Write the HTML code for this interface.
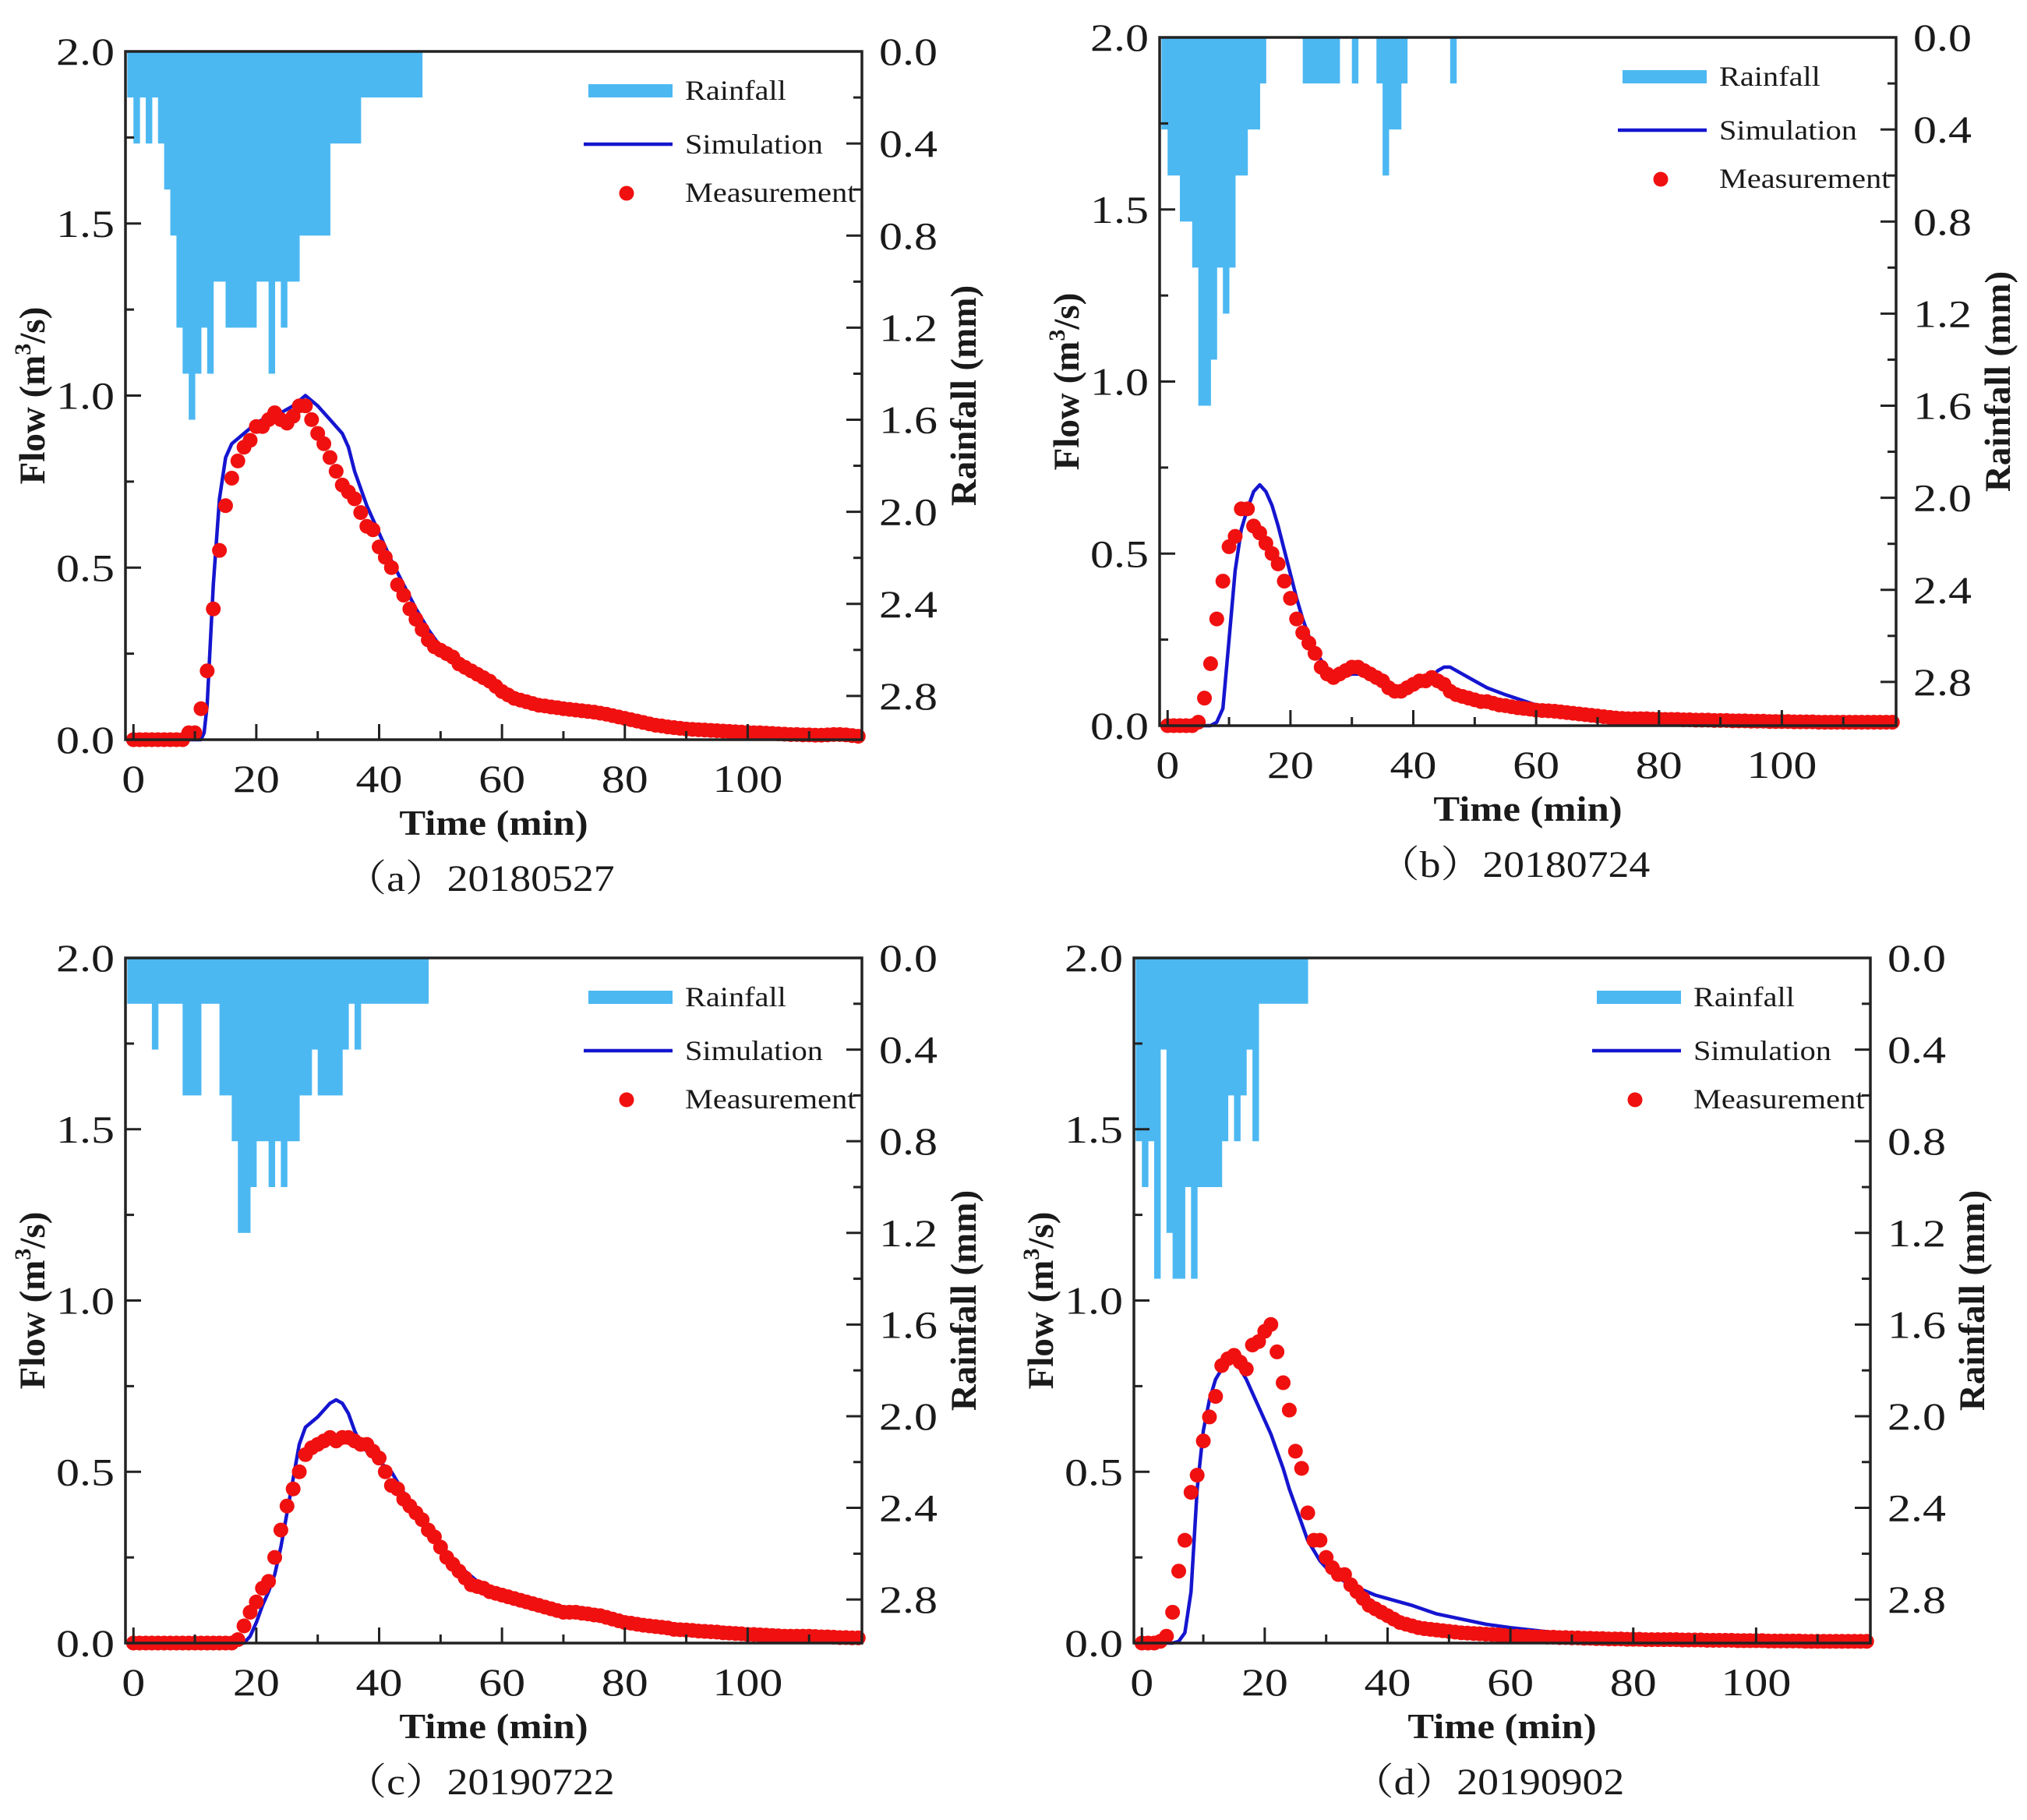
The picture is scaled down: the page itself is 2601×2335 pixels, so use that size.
<!DOCTYPE html>
<html><head><meta charset="utf-8"><style>
html,body{margin:0;padding:0;background:#fff;}
svg{display:block;}
text{font-family:"Liberation Serif","Noto Serif CJK SC",serif;fill:#1a1a1a;}
</style></head><body>
<svg id="fig" width="2601" height="2335" viewBox="0 0 2601 2335" xmlns="http://www.w3.org/2000/svg"></svg>
<script>
// ---- shared axis data ----
const flowTicks = [0, 0.5, 1.0, 1.5, 2.0];
const flowTickLabels = ["0.0", "0.5", "1.0", "1.5", "2.0"];
const rainTicks = [0, 0.4, 0.8, 1.2, 1.6, 2.0, 2.4, 2.8];
const rainTickLabels = ["0.0", "0.4", "0.8", "1.2", "1.6", "2.0", "2.4", "2.8"];
const timeTicks = [0, 20, 40, 60, 80, 100];
const timeTickLabels = ["0", "20", "40", "60", "80", "100"];

// ---- panel (a) 20180527 ----
const rainA = [0.2,0.4,0.2,0.4,0.2,0.4,0.6,0.8,1.2,1.4,1.6,1.4,1.2,1.4,1.0,1.0,1.2,1.2,1.2,1.2,1.2,1.0,1.0,1.4,1.0,1.2,1.0,1.0,0.8,0.8,0.8,0.8,0.8,0.4,0.4,0.4,0.4,0.4,0.2,0.2,0.2,0.2,0.2,0.2,0.2,0.2,0.2,0.2];
const simTA = [0,11,11.5,12,13,14,15,16,18,20,22,24,26,28,30,32,34,35,36,38,40,42,44,46,48,50,55,60,65,70,80,90,100,110,118];
const simQA = [0,0,0.02,0.1,0.45,0.7,0.82,0.86,0.89,0.92,0.94,0.95,0.97,1.0,0.97,0.93,0.89,0.85,0.78,0.68,0.6,0.52,0.45,0.38,0.32,0.27,0.2,0.15,0.11,0.09,0.06,0.04,0.03,0.02,0.02];
const measA = [0,0,0,0,0,0,0,0,0,0.02,0.02,0.09,0.2,0.38,0.55,0.68,0.76,0.81,0.85,0.87,0.91,0.91,0.93,0.95,0.93,0.92,0.94,0.97,0.97,0.93,0.89,0.86,0.82,0.78,0.74,0.72,0.7,0.66,0.62,0.61,0.56,0.53,0.5,0.45,0.42,0.38,0.35,0.32,0.29,0.27,0.26,0.25,0.24,0.22,0.21,0.2,0.19,0.18,0.17,0.155,0.14,0.13,0.12,0.115,0.11,0.105,0.1,0.098,0.095,0.093,0.09,0.088,0.086,0.084,0.082,0.08,0.077,0.074,0.07,0.066,0.062,0.058,0.054,0.05,0.046,0.042,0.04,0.037,0.035,0.033,0.031,0.03,0.029,0.028,0.027,0.026,0.025,0.024,0.023,0.022,0.021,0.02,0.02,0.019,0.018,0.017,0.016,0.015,0.015,0.014,0.014,0.013,0.013,0.014,0.015,0.015,0.014,0.012,0.01];

// ---- panel (b) 20180724 ----
const rainB = [0.4,0.6,0.6,0.8,0.8,1.0,1.6,1.6,1.4,1.0,1.2,1.0,0.6,0.6,0.4,0.4,0.2,0,0,0,0,0,0,0.2,0.2,0.2,0.2,0.2,0.2,0,0,0.2,0,0,0,0.2,0.6,0.4,0.4,0.2,0,0,0,0,0,0,0,0.2];
const simTB = [0,7,8,9,10,11,12,13,14,15,16,17,18,19,20,21,22,23,24,25,26,27,28,30,32,34,36,38,40,42,44,45,46,48,50,52,55,60,65,70,80,90,100,118];
const simQB = [0,0,0.01,0.05,0.25,0.45,0.57,0.63,0.68,0.7,0.68,0.64,0.58,0.51,0.44,0.37,0.31,0.26,0.22,0.19,0.16,0.15,0.14,0.15,0.15,0.14,0.12,0.11,0.11,0.12,0.16,0.17,0.17,0.15,0.13,0.11,0.09,0.06,0.04,0.03,0.02,0.015,0.01,0.01];
const measB = [0,0,0,0,0,0.01,0.08,0.18,0.31,0.42,0.52,0.55,0.63,0.63,0.58,0.56,0.53,0.5,0.47,0.42,0.37,0.31,0.27,0.24,0.21,0.17,0.15,0.14,0.15,0.16,0.17,0.17,0.16,0.15,0.14,0.13,0.11,0.1,0.1,0.11,0.12,0.13,0.13,0.14,0.13,0.12,0.1,0.09,0.085,0.08,0.075,0.07,0.07,0.065,0.06,0.058,0.055,0.052,0.05,0.048,0.045,0.044,0.043,0.042,0.04,0.038,0.036,0.034,0.032,0.03,0.028,0.026,0.024,0.022,0.021,0.02,0.02,0.02,0.02,0.019,0.019,0.018,0.018,0.018,0.017,0.017,0.016,0.016,0.016,0.015,0.015,0.015,0.014,0.014,0.014,0.013,0.013,0.013,0.012,0.012,0.012,0.012,0.011,0.011,0.011,0.011,0.01,0.01,0.01,0.01,0.01,0.01,0.01,0.01,0.01,0.01,0.01,0.01,0.01];

// ---- panel (c) 20190722 ----
const rainC = [0.2,0.2,0.2,0.2,0.4,0.2,0.2,0.2,0.2,0.6,0.6,0.6,0.2,0.2,0.2,0.6,0.6,0.8,1.2,1.2,1.0,0.8,0.8,1.0,0.8,1.0,0.8,0.8,0.6,0.6,0.4,0.6,0.6,0.6,0.6,0.4,0.2,0.4,0.2,0.2,0.2,0.2,0.2,0.2,0.2,0.2,0.2,0.2,0.2];
const simTC = [0,18,19,20,21,22,23,24,25,26,27,28,30,32,33,34,35,36,37,38,40,42,44,46,48,50,52,54,56,58,60,65,70,75,80,90,100,110,118];
const simQC = [0,0,0.02,0.06,0.11,0.15,0.2,0.28,0.38,0.48,0.58,0.63,0.66,0.7,0.71,0.7,0.67,0.62,0.58,0.56,0.53,0.5,0.44,0.38,0.33,0.28,0.24,0.21,0.18,0.16,0.14,0.11,0.09,0.075,0.06,0.04,0.03,0.02,0.015];
const measC = [0,0,0,0,0,0,0,0,0,0,0,0,0,0,0,0,0,0.01,0.05,0.09,0.12,0.16,0.18,0.25,0.33,0.4,0.45,0.5,0.55,0.57,0.58,0.59,0.6,0.59,0.6,0.6,0.59,0.58,0.58,0.56,0.54,0.5,0.46,0.45,0.42,0.4,0.38,0.36,0.33,0.31,0.28,0.25,0.23,0.21,0.19,0.17,0.165,0.16,0.15,0.145,0.14,0.135,0.13,0.125,0.12,0.115,0.11,0.105,0.1,0.095,0.09,0.09,0.09,0.087,0.085,0.082,0.08,0.075,0.07,0.065,0.06,0.058,0.055,0.052,0.05,0.048,0.046,0.044,0.04,0.039,0.038,0.037,0.035,0.034,0.033,0.032,0.03,0.029,0.028,0.027,0.025,0.025,0.024,0.023,0.022,0.021,0.02,0.02,0.02,0.02,0.02,0.019,0.018,0.018,0.017,0.016,0.016,0.015,0.015];

// ---- panel (d) 20190902 ----
const rainD = [0.8,1.0,0.8,1.4,0.4,1.2,1.4,1.4,1.0,1.4,1.0,1.0,1.0,1.0,0.8,0.6,0.8,0.6,0.4,0.8,0.2,0.2,0.2,0.2,0.2,0.2,0.2,0.2];
const simTD = [0,5,6,7,8,9,10,11,12,13,14,15,16,17,18,19,20,21,22,23,24,25,26,27,28,29,30,32,34,36,38,40,44,48,52,56,60,65,70,80,100,118];
const simQD = [0,0,0.005,0.03,0.15,0.45,0.62,0.71,0.77,0.8,0.82,0.82,0.8,0.77,0.73,0.69,0.65,0.61,0.56,0.51,0.45,0.4,0.35,0.3,0.27,0.24,0.22,0.19,0.17,0.155,0.14,0.13,0.11,0.085,0.07,0.055,0.045,0.035,0.025,0.015,0.01,0.005];
const measD = [0,0,0,0.005,0.02,0.09,0.21,0.3,0.44,0.49,0.59,0.66,0.72,0.81,0.83,0.84,0.82,0.8,0.87,0.88,0.91,0.93,0.85,0.76,0.68,0.56,0.51,0.38,0.3,0.3,0.25,0.22,0.2,0.2,0.17,0.15,0.13,0.11,0.1,0.09,0.08,0.07,0.06,0.055,0.05,0.045,0.042,0.04,0.038,0.036,0.034,0.032,0.03,0.029,0.028,0.027,0.026,0.025,0.024,0.022,0.02,0.02,0.019,0.019,0.018,0.018,0.017,0.017,0.016,0.016,0.015,0.015,0.014,0.014,0.013,0.013,0.012,0.012,0.012,0.011,0.011,0.011,0.01,0.01,0.01,0.01,0.01,0.01,0.009,0.009,0.009,0.009,0.008,0.008,0.008,0.008,0.008,0.007,0.007,0.007,0.007,0.007,0.006,0.006,0.006,0.006,0.006,0.006,0.005,0.005,0.005,0.005,0.005,0.005,0.005,0.005,0.005,0.005,0.005];

const captionA = "（a）20180527", captionB = "（b）20180724", captionC = "（c）20190722", captionD = "（d）20190902";

const NS = "http://www.w3.org/2000/svg";
const svg = document.getElementById("fig");
function mk(tag, attrs, parent) {
  const e = document.createElementNS(NS, tag);
  for (const k in attrs) e.setAttribute(k, attrs[k]);
  parent.appendChild(e);
  return e;
}
// horizontally stretched text (reference figure is widened)
function stext(parent, x, y, str, size, anchor, weight, sx) {
  const t = mk("text", {x: 0, y: 0, "text-anchor": anchor, "font-size": size, "font-weight": weight || "normal",
    transform: `translate(${x},${y}) scale(${sx || 1.2},1)`}, parent);
  t.textContent = str;
  return t;
}

const T0 = -1.3, T1 = 118.6, RMAX = 2.99;

function drawPanel(id, box, rain, simT, simQ, meas, caption) {
  const g = mk("g", {}, svg);
  
  
  const L = box[0], R = box[1], TOP = box[2], B = box[3];
  const xs = t => L + (t - T0) / (T1 - T0) * (R - L);
  const yf = q => B - q / 2 * (B - TOP);
  const yr = r => TOP + r / RMAX * (B - TOP);

  rain.forEach((v, i) => {
    if (v <= 0) return;
    const t0 = Math.max(i - 1, T0), t1 = i;
    const r = mk("rect", {x: xs(t0), y: TOP, width: xs(t1) - xs(t0) + 0.5, height: yr(v) - TOP, fill: "#4cb8f2"}, g);
    
    
  });

  const pts = simT.map((t, i) => xs(t).toFixed(1) + "," + yf(simQ[i]).toFixed(1)).join(" ");
  const pl = mk("polyline", {points: pts, fill: "none", stroke: "#1515d0", "stroke-width": 4.5, "stroke-linejoin": "round"}, g);
  
  

  meas.forEach((q, t) => {
    const c = mk("circle", {cx: xs(t), cy: yf(q), r: 9.5, fill: "#f01010"}, g);
    
    
  });

  const fr = mk("rect", {x: L, y: TOP, width: R - L, height: B - TOP, fill: "none", stroke: "#222", "stroke-width": 3.5}, g);
  
  

  for (let q = 0; q <= 2.0001; q += 0.25) {
    const major = Math.abs(q * 2 - Math.round(q * 2)) < 1e-6;
    mk("line", {x1: L, x2: L + (major ? 20 : 11), y1: yf(q), y2: yf(q), stroke: "#222", "stroke-width": 3}, g);
  }
  flowTicks.forEach((q, i) => {
    const t = stext(g, L - 14, yf(q) + 17, flowTickLabels[i], 50, "end");
    
    
  });
  for (let r = 0; r <= 2.95; r += 0.2) {
    const major = Math.round(r * 5) % 2 === 0;
    mk("line", {x1: R, x2: R - (major ? 20 : 11), y1: yr(r), y2: yr(r), stroke: "#222", "stroke-width": 3}, g);
  }
  rainTicks.forEach((r, i) => {
    const t = stext(g, R + 22, yr(r) + 17, rainTickLabels[i], 50, "start");
    
    
  });
  for (let m = 0; m <= 110; m += 10) {
    const major = m % 20 === 0;
    mk("line", {x1: xs(m), x2: xs(m), y1: B, y2: B - (major ? 20 : 11), stroke: "#222", "stroke-width": 3}, g);
  }
  timeTicks.forEach((m, i) => {
    const t = stext(g, xs(m), B + 67, timeTickLabels[i], 50, "middle");
    
    
  });

  const yc = (TOP + B) / 2;
  const ft = mk("text", {x: 0, y: 0, "text-anchor": "middle", "font-size": 47, "font-weight": "bold", transform: `translate(${L - 104},${yc}) rotate(-90)`}, g);
  ft.innerHTML = 'Flow (m<tspan font-size="30" dy="-18">3</tspan><tspan dy="18">/s)</tspan>';
  
  
  const rt = mk("text", {x: 0, y: 0, "text-anchor": "middle", "font-size": 47, "font-weight": "bold", transform: `translate(${R + 146},${yc}) rotate(-90)`}, g);
  rt.textContent = "Rainfall (mm)";
  
  
  const tt = stext(g, (L + R) / 2, B + 122, "Time (min)", 46, "middle", "bold", 1.1);
  
  
  const cap = stext(g, (L + R) / 2 - 18, B + 194, caption, 48, "middle", "normal", 1.12);
  
  

  const lg = mk("g", {}, g);
  
  
  const lr = mk("rect", {x: L + 594, y: TOP + 42, width: 108, height: 17, fill: "#4cb8f2"}, lg);
  
  
  const l1 = stext(lg, L + 718, TOP + 62, "Rainfall", 36, "start", "normal", 1.12);
  
  
  const ll = mk("line", {x1: L + 588, x2: L + 702, y1: TOP + 119, y2: TOP + 119, stroke: "#1515d0", "stroke-width": 4.5}, lg);
  
  
  const l2 = stext(lg, L + 718, TOP + 131, "Simulation", 36, "start", "normal", 1.12);
  
  
  const lc = mk("circle", {cx: L + 643, cy: TOP + 182, r: 9.5, fill: "#f01010"}, lg);
  
  
  const l3 = stext(lg, L + 718, TOP + 193, "Measurement", 36, "start", "normal", 1.12);
  
  
}

drawPanel("a", [161, 1106, 66, 949], rainA, simTA, simQA, measA, captionA);
drawPanel("b", [1488, 2433, 48, 931], rainB, simTB, simQB, measB, captionB);
drawPanel("c", [161, 1106, 1229, 2108], rainC, simTC, simQC, measC, captionC);
drawPanel("d", [1455, 2400, 1229, 2108], rainD, simTD, simQD, measD, captionD);
</script>
</body></html>
